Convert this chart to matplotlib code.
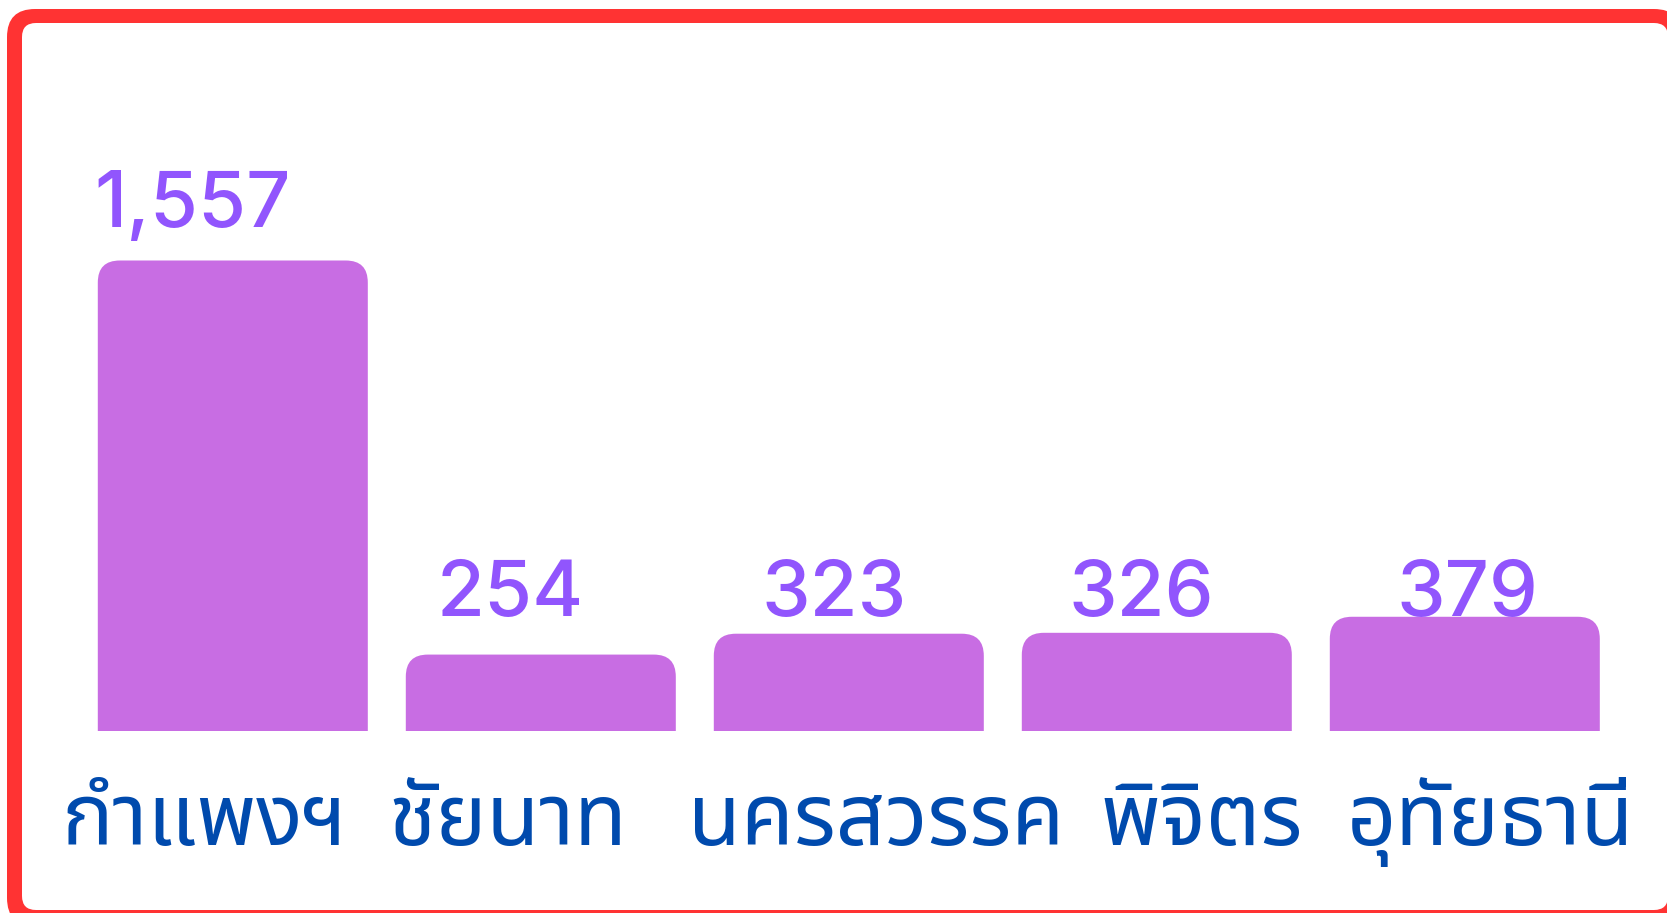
import matplotlib
matplotlib.use("Agg")
import matplotlib.pyplot as plt
from matplotlib.patches import FancyBboxPatch

# ---- data ----
categories = ["กำแพงฯ", "ชัยนาท", "นครสวรรค", "พิจิตร", "อุทัยธานี"]
values = [1557, 254, 323, 326, 379]
value_labels = ["1,557", "254", "323", "326", "379"]

# ---- style ----
BAR_COLOR = "#C86DE3"
NUM_COLOR = "#9155FD"
CAT_COLOR = "#004AAD"
BORDER_COLOR = "#FF3333"
W, H, DPI = 1667, 913, 100

# label placement tweaks (pixel offsets from bar centre)
num_dx = [-40, -31, -15, -15, 3]
cat_dx = [-28, -33, 27, 45, 26]

fig = plt.figure(figsize=(W / DPI, H / DPI), dpi=DPI)
fig.patch.set_facecolor("white")


def frame_box(left, top, right, bottom, r, color, z):
    """Rounded box given in pixel coordinates measured from the top-left."""
    x0, x1 = left / W, right / W
    y0, y1 = (H - bottom) / H, (H - top) / H
    p = FancyBboxPatch((x0, y0), x1 - x0, y1 - y0,
                       boxstyle=f"round,pad=0,rounding_size={r / W}",
                       mutation_aspect=W / H, transform=fig.transFigure,
                       facecolor=color, edgecolor="none", zorder=z)
    fig.add_artist(p)


frame_box(7, 9, 1682, 926, 28, BORDER_COLOR, -3)
frame_box(22, 23, 1668, 910, 14, "white", -2)

step_px = 308.0
ymax = 2000
base_px = 731.4
py = 470.9 / 1557.0  # px per data unit (y)
ax_h_px = ymax * py
left_px = 232.8 - step_px / 2
ax = fig.add_axes([left_px / W, (H - base_px) / H, 5 * step_px / W, ax_h_px / H])
ax.set_xlim(-0.5, 4.5)
ax.set_ylim(0, ymax)
ax.axis("off")
ax.patch.set_visible(False)

x = list(range(len(values)))
bars = ax.bar(x, values, width=270 / step_px, color=BAR_COLOR)
r_px = 22.0
for rect in bars:
    bx, by = rect.get_x(), rect.get_y()
    bw, bh = rect.get_width(), rect.get_height()
    rect.set_visible(False)
    rx = r_px / step_px
    p = FancyBboxPatch((bx, by - 300), bw, bh + 300,
                       boxstyle=f"round,pad=0,rounding_size={rx}",
                       mutation_aspect=(r_px / py) / rx,
                       facecolor=BAR_COLOR, edgecolor="none", clip_on=True)
    ax.add_patch(p)

# value labels
for i, (v, lab) in enumerate(zip(values, value_labels)):
    ly = v + 111 if v > 1000 else 383
    ax.text(i + num_dx[i] / step_px, ly, lab, ha="center", va="baseline",
            fontsize=56, color=NUM_COLOR, family=["Inter", "DejaVu Sans"],
            fontweight="medium")

# category labels
cat_y = -113.6 / py
for i, c in enumerate(categories):
    ax.text(i + cat_dx[i] / step_px, cat_y, c, ha="center", va="baseline",
            fontsize=62, color=CAT_COLOR, family=["Noto Sans Thai", "DejaVu Sans"],
            fontweight="medium")

fig.savefig("out.png", dpi=DPI, facecolor="white")
